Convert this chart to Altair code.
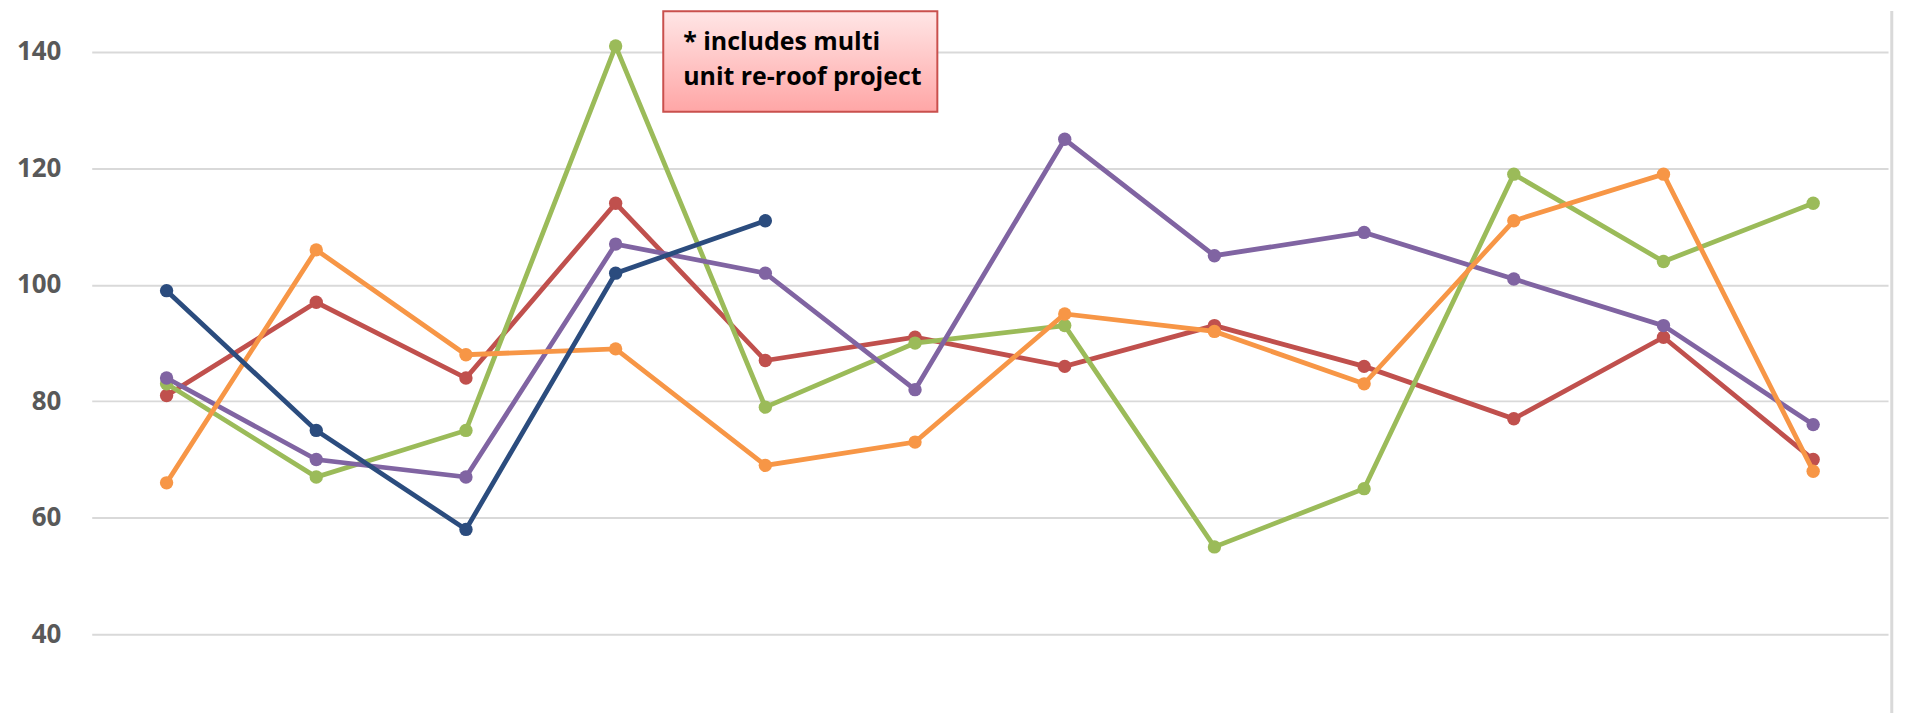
import altair as alt
import pandas as pd

months = ["Jan", "Feb", "Mar", "Apr", "May", "Jun", "Jul", "Aug", "Sep", "Oct", "Nov", "Dec"]

red_vals = [81, 97, 84, 114, 87, 91, 86, 93, 86, 77, 91, 70]
green_vals = [83, 67, 75, 141, 79, 90, 93, 55, 65, 119, 104, 114]
purple_vals = [84, 70, 67, 107, 102, 82, 125, 105, 109, 101, 93, 76]
orange_vals = [66, 106, 88, 89, 69, 73, 95, 92, 83, 111, 119, 68]
navy_vals = [99, 75, 58, 102, 111]

series_names = ["2011", "2012", "2013", "2014", "2015"]
series_values = [red_vals, green_vals, purple_vals, orange_vals, navy_vals]
series_colors = ["#C0504D", "#9BBB59", "#8064A2", "#F79646", "#2B4C7E"]

y_ticks = [40, 60, 80, 100, 120, 140]

note_lines = ["* includes multi", "unit re-roof project"]

rows = []
for name, vals in zip(series_names, series_values):
    for i, v in enumerate(vals):
        rows.append({"series": name, "month": months[i], "idx": i + 1, "value": v})
df = pd.DataFrame(rows)

x_scale = alt.Scale(domain=[0.5, 12.5], nice=False, zero=False)
y_scale = alt.Scale(domain=[26.5, 147.0], nice=False, zero=False)

FONT = "Open Sans"

base = alt.Chart(df)

layers = []
axis_layer = base.mark_point(opacity=0).encode(
    x=alt.X("idx:Q", scale=x_scale, axis=None),
    y=alt.Y(
        "value:Q",
        scale=y_scale,
        axis=alt.Axis(
            values=y_ticks,
            title=None,
            domain=False,
            ticks=False,
            grid=True,
            gridColor="#D9D9D9",
            gridWidth=2,
            labelFont=FONT,
            labelFontWeight="bold",
            labelFontSize=26,
            labelColor="#595959",
            labelPadding=31,
            minExtent=84,
            maxExtent=84,
        ),
    ),
)
layers.append(axis_layer)

border_df = pd.DataFrame({"xb": [12.525]})
border = alt.Chart(border_df).mark_rule(color="#D9D9D9", strokeWidth=3).encode(
    x=alt.X("xb:Q", scale=x_scale),
    y=alt.value(0),
    y2=alt.value(704),
)
layers.append(border)

for name, color in zip(series_names, series_colors):
    sub = base.transform_filter(alt.datum.series == name)
    line = sub.mark_line(color=color, strokeWidth=4.8).encode(
        x=alt.X("idx:Q", scale=x_scale),
        y=alt.Y("value:Q", scale=y_scale),
        order="idx:Q",
    )
    pts = sub.mark_circle(color=color, size=180, opacity=1).encode(
        x=alt.X("idx:Q", scale=x_scale),
        y=alt.Y("value:Q", scale=y_scale),
    )
    layers.extend([line, pts])

box_df = pd.DataFrame({"x1": [4.318], "x2": [6.149], "y1": [146.98], "y2": [129.74]})
for off, op in [(6, 0.08), (5, 0.12), (4, 0.15), (3, 0.15)]:
    shadow = alt.Chart(box_df).mark_rect(
        color="#7F7F7F", opacity=op, xOffset=off, yOffset=off, cornerRadius=2
    ).encode(
        x=alt.X("x1:Q", scale=x_scale),
        x2="x2:Q",
        y=alt.Y("y1:Q", scale=y_scale),
        y2="y2:Q",
    )
    layers.append(shadow)

box = alt.Chart(box_df).mark_rect(
    fill=alt.Gradient(
        gradient="linear",
        stops=[
            alt.GradientStop(color="#FFE6E6", offset=0),
            alt.GradientStop(color="#FFA6A6", offset=1),
        ],
        x1=0, x2=0, y1=0, y2=1,
    ),
    stroke="#C9504D",
    strokeWidth=2,
).encode(
    x=alt.X("x1:Q", scale=x_scale),
    x2="x2:Q",
    y=alt.Y("y1:Q", scale=y_scale),
    y2="y2:Q",
)
layers.append(box)

note_df = pd.DataFrame({"text": note_lines, "tx": [4.451, 4.451], "ty": [140.4, 134.36]})
note = alt.Chart(note_df).mark_text(
    align="left", baseline="alphabetic", font=FONT, fontWeight="bold",
    fontSize=25, color="#000000",
).encode(
    x=alt.X("tx:Q", scale=x_scale),
    y=alt.Y("ty:Q", scale=y_scale),
    text="text:N",
)
layers.append(note)

chart = alt.layer(*layers).properties(
    width=1802,
    height=704,
    padding={"left": 0, "top": 0, "right": 4, "bottom": 0},
    background="white",
).configure_view(stroke=None)

chart.save("out.html", embed_options={"renderer": "svg", "actions": False})
